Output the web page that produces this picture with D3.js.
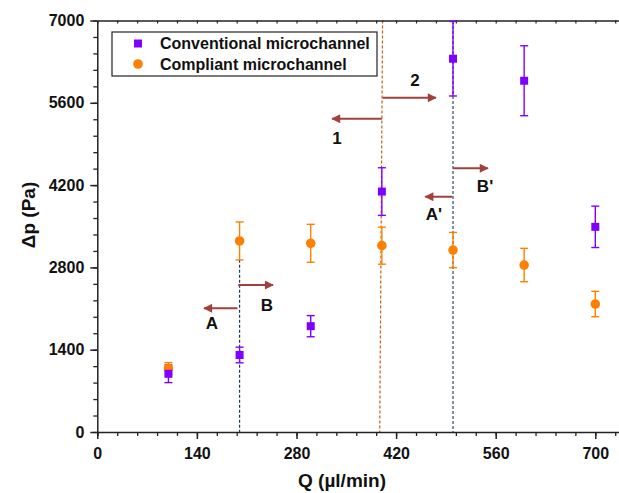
<!DOCTYPE html>
<html><head><meta charset="utf-8">
<script src="https://cdn.jsdelivr.net/npm/d3@7"></script>
<style>
html,body{margin:0;padding:0;background:#fff;}
text{font-family:"Liberation Sans",Arial,sans-serif;font-weight:bold;}
</style></head>
<body>
<svg id="chart" width="619" height="493"></svg>
<script>
// ---- data ----
const flowRates = [100, 200, 300, 400, 500, 600, 700];
const conventionalDp = [990, 1310, 1800, 4090, 6350, 5975, 3490];
const conventionalErr = [150, 133, 180, 405, 634, 595, 352];
const compliantDp = [1080, 3250, 3210, 3170, 3095, 2840, 2177];
const compliantErr = [100, 323, 323, 315, 300, 284, 216];
const seriesNames = ["Conventional microchannel", "Compliant microchannel"];
const xTickLabels = [0, 140, 280, 420, 560, 700];
const yTickLabels = [0, 1400, 2800, 4200, 5600, 7000];
// annotation lines (Q, Δp)
const guideLines = [
  {q1: 200, p1: 2930, q2: 200, p2: 0, color: "#1F3864"},
  {q1: 401, p1: 7000, q2: 397, p2: 0, color: "#C5601A"},
  {q1: 500, p1: 6990, q2: 500, p2: 0, color: "#2E4C68"}
];
const arrows = [
  {from: 401, to: 476, p: 5686},
  {from: 400, to: 330, p: 5329},
  {from: 500, to: 549, p: 4486},
  {from: 499, to: 461, p: 4002},
  {from: 198, to: 247, p: 2500},
  {from: 197, to: 150, p: 2104}
];
const arrowLabels = [
  {t: "2", q: 446.6, p: 5987},
  {t: "1", q: 337, p: 5001},
  {t: "B'", q: 545, p: 4184},
  {t: "A'", q: 473, p: 3708},
  {t: "B", q: 238.5, p: 2160},
  {t: "A", q: 161.2, p: 1854}
];

const purple = "#8000FF", orange = "#FF8000", arrowColor = "#A2413C";
const svg = d3.select("#chart");
const x = d3.scaleLinear().domain([0, 735]).range([97.3, 620.2]);
const y = d3.scaleLinear().domain([0, 7000]).range([432, 20.5]);

// defs for arrowhead
svg.append("defs").append("marker")
  .attr("id", "ah").attr("viewBox", "0 0 10 10").attr("refX", 9).attr("refY", 5)
  .attr("markerWidth", 5.5).attr("markerHeight", 4.5).attr("markerUnits", "strokeWidth")
  .attr("orient", "auto")
  .append("path").attr("d", "M0,0 L10,5 L0,10 Z").attr("fill", arrowColor);

// guide dashed lines
svg.append("g").selectAll("line").data(guideLines).join("line")
  .attr("x1", d => x(d.q1)).attr("y1", d => y(d.p1))
  .attr("x2", d => x(d.q2)).attr("y2", d => y(d.p2))
  .attr("stroke", d => d.color).attr("stroke-width", 1.2)
  .attr("stroke-dasharray", "3,2");

// arrows
svg.append("g").selectAll("line").data(arrows).join("line")
  .attr("x1", d => x(d.from)).attr("x2", d => x(d.to))
  .attr("y1", d => y(d.p)).attr("y2", d => y(d.p))
  .attr("stroke", arrowColor).attr("stroke-width", 2)
  .attr("marker-end", "url(#ah)");
svg.append("g").selectAll("text").data(arrowLabels).join("text")
  .attr("x", d => x(d.q)).attr("y", d => y(d.p)).attr("dy", "0.36em")
  .attr("text-anchor", "middle").attr("font-size", 17).attr("fill", "#111")
  .text(d => d.t);

// axes
const axisColor = "#222";
const gx = svg.append("g").attr("transform", `translate(0,${y(0)})`);
gx.call(d3.axisBottom(x).tickValues(d3.range(0, 736, 28)).tickSize(4).tickFormat(""));
gx.selectAll(".tick line").attr("stroke-width", 1.3);
const gx2 = svg.append("g").attr("transform", `translate(0,${y(0)})`);
gx2.call(d3.axisBottom(x).tickValues(xTickLabels).tickSize(7).tickSizeOuter(0).tickPadding(9).tickFormat(d3.format("d")));
gx2.selectAll(".domain").remove();
gx2.selectAll(".tick line").attr("stroke-width", 1.5);
gx2.selectAll("text").attr("font-size", 16).attr("fill", "#111");

const gxt = svg.append("g").attr("transform", `translate(0,${y(7000)})`);
gxt.call(d3.axisBottom(x).tickValues(d3.range(0, 736, 28)).tickSize(3).tickFormat("").tickSizeOuter(0));
gxt.selectAll(".tick line").attr("stroke-width", 1.2);

const gy = svg.append("g").attr("transform", `translate(${x(0)},0)`);
gy.call(d3.axisLeft(y).tickValues(d3.range(0, 7001, 280)).tickSize(4).tickFormat("").tickSizeOuter(0));
gy.selectAll(".tick line").attr("stroke-width", 1.3);
const gy2 = svg.append("g").attr("transform", `translate(${x(0)},0)`);
gy2.call(d3.axisLeft(y).tickValues(yTickLabels).tickSize(7).tickPadding(6).tickSizeOuter(0).tickFormat(d3.format("d")));
gy2.selectAll(".domain").remove();
gy2.selectAll(".tick line").attr("stroke-width", 1.5);
gy2.selectAll("text").attr("font-size", 16).attr("fill", "#111");
svg.selectAll(".domain").attr("stroke", axisColor).attr("stroke-width", 1.5);
svg.selectAll(".tick line").attr("stroke", axisColor);

// axis titles
svg.append("text").attr("x", 342).attr("y", 487).attr("text-anchor", "middle")
  .attr("font-size", 19).attr("fill", "#111").text("Q (µl/min)");
svg.append("text").attr("transform", "translate(35,215) rotate(-90)")
  .attr("text-anchor", "middle").attr("font-size", 19).attr("fill", "#111").text("Δp (Pa)");

// data series
const convData = flowRates.map((q, i) => ({q, v: conventionalDp[i], e: conventionalErr[i]}));
const compData = flowRates.map((q, i) => ({q, v: compliantDp[i], e: compliantErr[i]}));
function errorBars(data, color) {
  const g = svg.append("g").attr("stroke", color).attr("stroke-width", 1.4);
  g.selectAll(".v").data(data).join("line")
    .attr("x1", d => x(d.q)).attr("x2", d => x(d.q))
    .attr("y1", d => y(d.v - d.e)).attr("y2", d => y(Math.min(7000, d.v + d.e)));
  g.selectAll(".t").data(data).join("line")
    .attr("x1", d => x(d.q) - 4).attr("x2", d => x(d.q) + 4)
    .attr("y1", d => y(Math.min(7000, d.v + d.e))).attr("y2", d => y(Math.min(7000, d.v + d.e)));
  g.selectAll(".b").data(data).join("line")
    .attr("x1", d => x(d.q) - 4).attr("x2", d => x(d.q) + 4)
    .attr("y1", d => y(d.v - d.e)).attr("y2", d => y(d.v - d.e));
}
errorBars(convData, purple);
errorBars(compData, orange);
svg.append("g").selectAll("circle").data(compData).join("circle")
  .attr("cx", d => x(d.q)).attr("cy", d => y(d.v)).attr("r", 4.8).attr("fill", orange);
svg.append("g").selectAll("rect").data(convData).join("rect")
  .attr("x", d => x(d.q) - 4).attr("y", d => y(d.v) - 4)
  .attr("width", 8).attr("height", 8).attr("fill", purple);

// legend
const lg = svg.append("g");
lg.append("rect").attr("x", 112).attr("y", 32).attr("width", 265).attr("height", 44)
  .attr("fill", "#fff").attr("stroke", "#222").attr("stroke-width", 1.2);
lg.append("rect").attr("x", 134).attr("y", 39.5).attr("width", 8).attr("height", 8).attr("fill", purple);
lg.append("circle").attr("cx", 138).attr("cy", 64).attr("r", 4.8).attr("fill", orange);
lg.selectAll(".lt").data(seriesNames).join("text")
  .attr("x", 160).attr("y", (d, i) => 43.5 + i * 21).attr("dy", "0.36em")
  .attr("font-size", 16).attr("fill", "#111").text(d => d);
</script>
</body></html>
